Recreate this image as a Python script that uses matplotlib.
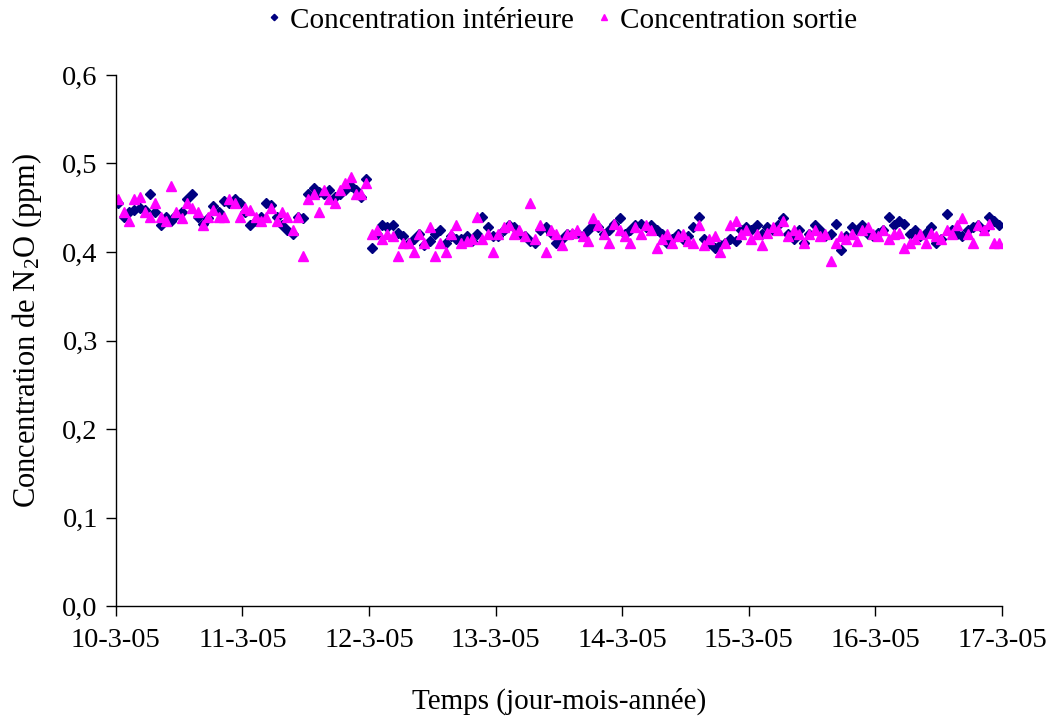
import numpy as np
import matplotlib
matplotlib.use("Agg")
import matplotlib.pyplot as plt

plt.rcParams['font.family'] = ['Liberation Serif', 'DejaVu Serif']
plt.rcParams['mathtext.fontset'] = 'custom'
plt.rcParams['mathtext.rm'] = 'Liberation Serif'
plt.rcParams['mathtext.it'] = 'Liberation Serif:italic'

day_labels = ['10-3-05', '11-3-05', '12-3-05', '13-3-05', '14-3-05', '15-3-05', '16-3-05', '17-3-05']

# hourly readings, one list of 24 per day (10-3 to 16-3)
interieure = [
    [0.455, 0.44, 0.445, 0.448, 0.45, 0.447, 0.465, 0.445, 0.43, 0.44, 0.435, 0.442,
     0.445, 0.46, 0.465, 0.44, 0.432, 0.438, 0.452, 0.445, 0.458, 0.455, 0.46, 0.455],
    [0.445, 0.43, 0.435, 0.44, 0.455, 0.453, 0.44, 0.43, 0.425, 0.42, 0.44, 0.438,
     0.465, 0.472, 0.468, 0.465, 0.47, 0.462, 0.465, 0.47, 0.475, 0.47, 0.462, 0.482],
    [0.405, 0.42, 0.43, 0.428, 0.43, 0.422, 0.418, 0.41, 0.415, 0.42, 0.408, 0.412,
     0.42, 0.425, 0.41, 0.418, 0.415, 0.415, 0.418, 0.412, 0.42, 0.44, 0.428, 0.418],
    [0.418, 0.425, 0.43, 0.428, 0.42, 0.418, 0.412, 0.41, 0.425, 0.428, 0.422, 0.41,
     0.415, 0.42, 0.42, 0.422, 0.418, 0.425, 0.43, 0.428, 0.42, 0.425, 0.432, 0.438],
    [0.42, 0.425, 0.43, 0.432, 0.428, 0.43, 0.425, 0.42, 0.41, 0.415, 0.42, 0.415,
     0.418, 0.428, 0.44, 0.415, 0.41, 0.405, 0.408, 0.41, 0.415, 0.412, 0.425, 0.428],
    [0.425, 0.43, 0.42, 0.428, 0.425, 0.43, 0.438, 0.42, 0.415, 0.425, 0.41, 0.42,
     0.43, 0.425, 0.418, 0.42, 0.432, 0.402, 0.418, 0.428, 0.425, 0.43, 0.42, 0.418],
    [0.422, 0.425, 0.44, 0.43, 0.435, 0.432, 0.42, 0.425, 0.418, 0.422, 0.428, 0.41,
     0.415, 0.443, 0.425, 0.42, 0.418, 0.425, 0.428, 0.43, 0.425, 0.44, 0.435, 0.43],
]
sortie = [
    [0.46, 0.445, 0.435, 0.46, 0.462, 0.445, 0.44, 0.455, 0.44, 0.435, 0.475, 0.445,
     0.438, 0.455, 0.45, 0.445, 0.43, 0.44, 0.448, 0.44, 0.44, 0.46, 0.455, 0.44],
    [0.45, 0.448, 0.44, 0.435, 0.44, 0.45, 0.435, 0.445, 0.44, 0.425, 0.44, 0.395,
     0.46, 0.465, 0.445, 0.47, 0.46, 0.455, 0.47, 0.478, 0.485, 0.465, 0.465, 0.478],
    [0.42, 0.425, 0.415, 0.42, 0.418, 0.395, 0.41, 0.41, 0.4, 0.42, 0.41, 0.428,
     0.395, 0.41, 0.4, 0.42, 0.43, 0.41, 0.412, 0.415, 0.44, 0.415, 0.42, 0.4],
    [0.42, 0.428, 0.43, 0.42, 0.425, 0.418, 0.455, 0.415, 0.43, 0.4, 0.425, 0.42,
     0.408, 0.42, 0.422, 0.425, 0.418, 0.412, 0.438, 0.43, 0.42, 0.41, 0.432, 0.425],
    [0.418, 0.41, 0.428, 0.42, 0.43, 0.425, 0.405, 0.415, 0.42, 0.41, 0.418, 0.42,
     0.412, 0.41, 0.43, 0.408, 0.415, 0.418, 0.4, 0.41, 0.43, 0.435, 0.42, 0.425],
    [0.415, 0.42, 0.408, 0.422, 0.428, 0.425, 0.435, 0.418, 0.425, 0.42, 0.41, 0.42,
     0.425, 0.418, 0.42, 0.39, 0.41, 0.418, 0.415, 0.42, 0.412, 0.425, 0.428, 0.42],
    [0.418, 0.425, 0.415, 0.42, 0.422, 0.405, 0.41, 0.415, 0.42, 0.41, 0.422, 0.418,
     0.415, 0.425, 0.42, 0.43, 0.438, 0.42, 0.41, 0.43, 0.425, 0.432, 0.41, 0.41],
]

y_int = np.concatenate(interieure)
y_sor = np.concatenate(sortie)
t = (np.arange(len(y_int)) + 0.5) / 24.0  # days since 10-3-05

fig = plt.figure(figsize=(10.53, 7.17), dpi=100)
ax = fig.add_axes([0.110, 0.1548, 0.8416, 0.7406])

ax.plot(t, y_int, linestyle='none', marker='D', ms=5.0, color='#000080',
        label='Concentration intérieure')
ax.plot(t, y_sor, linestyle='none', marker='^', ms=7.6, color='#FF00FF',
        label='Concentration sortie')

ax.set_xlim(0, 7)
ax.set_ylim(0, 0.6)
ax.set_xticks(range(8))
ax.set_xticklabels(day_labels)
ax.set_yticks(np.arange(0, 0.61, 0.1))
ax.set_yticklabels([f'{v:.1f}'.replace('.', ',') for v in np.arange(0, 0.61, 0.1)])
ax.tick_params(labelsize=20.5, direction='out', length=7, width=1, color='black')
ax.tick_params(axis='x', pad=9)
ax.tick_params(axis='y', pad=6)
ax.spines['top'].set_visible(False)
ax.spines['right'].set_visible(False)
for s in ('left', 'bottom'):
    ax.spines[s].set_linewidth(1)

ax.set_xlabel('Temps (jour-mois-année)', fontsize=21, labelpad=25)
ax.set_ylabel(r'Concentration de N$_\mathrm{2}$O (ppm)', fontsize=22)
ax.yaxis.set_label_coords(-0.081, 0.52)

leg = ax.legend(loc='lower center', bbox_to_anchor=(0.5, 1.045), ncol=2, frameon=False,
                fontsize=21, handletextpad=0.1, columnspacing=0.6, markerscale=0.65,
                handlelength=0.9, borderaxespad=0.2)

fig.savefig('out.png', dpi=100)
